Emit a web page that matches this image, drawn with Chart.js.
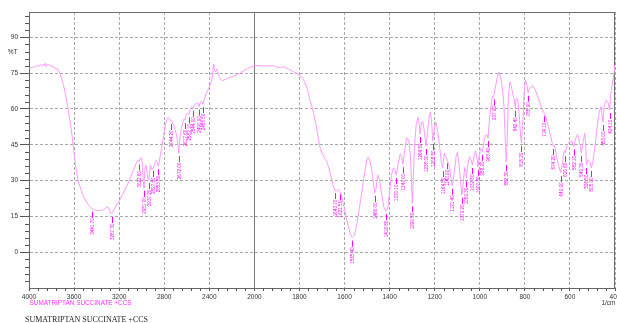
<!DOCTYPE html>
<html><head><meta charset="utf-8">
<script src="https://cdn.jsdelivr.net/npm/chart.js@4.4.1/dist/chart.umd.min.js"></script>
<style>html,body{margin:0;padding:0;background:#fff;overflow:hidden}canvas{display:block}</style>
</head><body>
<canvas id="c" width="617" height="323"></canvas>
<script>
const wavenumbers = [4000,3985,3970,3955,3940,3925,3912,3900,3888,3876,3866,3855,3846,3838,3828,3818,3806,3795,3785,3775,3765,3756,3748,3740,3725,3710,3695,3680,3665,3650,3635,3620,3605,3590,3575,3560,3540,3520,3500,3480,3460,3441.7,3420,3400,3380,3360,3340,3320,3305,3295,3285,3275,3267.3,3258,3245,3225,3200,3175,3150,3125,3100,3075,3050,3035,3022.6,3012,3000,2992,2986,2981,2976,2968,2958,2948,2937.2,2930,2922,2912,2897.6,2885,2870,2862,2853.8,2845,2835,2820,2805,2790,2777,2765,2755,2744.2,2732,2718,2703,2690,2680,2675,2672,2668,2660,2648,2635,2625,2617.6,2605,2592,2582.1,2570,2557,2544,2530,2515,2500,2490.9,2480,2468,2455.5,2445,2430,2412,2395,2380,2370,2364,2360,2355,2348,2340,2334,2326,2312,2298,2285,2265,2240,2210,2180,2150,2120,2090,2060,2030,2000,1980,1960,1940,1920,1905,1895,1885,1870,1855,1840,1825,1810,1798,1785,1770,1760,1755,1747,1738,1725,1715,1708,1700,1690,1680,1670,1660,1652,1643.7,1636,1628,1621.5,1612,1600,1590,1580,1572,1565.4,1558,1550,1540,1530,1518,1508,1500,1495,1488,1480,1472,1466,1461,1456,1451,1445,1435,1425,1416.8,1408,1400,1392,1384,1378,1370,1362,1353,1347,1341,1334,1325,1316,1308,1303,1299.5,1296,1290,1282,1274,1268,1264.5,1259,1252,1244,1238,1232,1224,1219,1214,1208.5,1202,1195,1187,1178,1170,1164.8,1157,1150,1143.9,1136,1128,1121.4,1113,1105,1099,1092,1085,1079.2,1073,1067,1062,1059.3,1053,1046,1039,1032.8,1025,1019,1013,1007.8,1002,997,992,988.2,982,975,968,963.4,957,950,944,937.9,930,922,914,906,898,892,887,882.3,878,873,866,858,850,847,842.4,838,831,825,819,815.2,810,803,797,790,785.9,778,765,752,738,725,714.1,705,695,685,678,674.2,668,660,650,640.9,633,628,624,620.6,612,600,590,582.1,575,566,557,549.3,541,534,530,526.5,520,512,505,498,490,480,472,463,453,448,440,432,424.1,418,410,405,400];
const transmittance = [77.0,77.4,77.2,77.8,77.6,78.4,77.8,78.5,78.0,78.8,78.2,79.1,77.6,78.7,78.3,78.5,77.9,78.0,77.4,77.6,76.8,76.3,77.0,76.2,74.8,72.8,70.3,67.0,63.0,59.0,54.5,49.5,43.5,37.5,32.8,29.3,26.3,23.8,21.8,20.3,19.1,18.2,17.7,17.5,17.4,17.5,17.8,18.4,19.0,18.7,17.6,16.4,16.0,16.7,18.0,19.6,21.6,23.7,26.0,28.5,31.3,34.2,36.9,38.3,38.0,39.5,39.3,35.5,29.5,27.0,30.5,36.5,35.8,31.5,30.2,33.5,36.5,34.8,35.3,37.2,38.4,37.6,36.0,37.5,40.5,44.5,49.0,53.2,55.8,56.5,56.0,55.0,54.8,53.3,51.3,48.8,45.5,42.5,41.5,43.8,48.0,51.8,54.5,55.8,55.3,57.3,58.3,57.7,59.6,60.8,60.5,61.6,62.5,62.2,61.0,62.6,63.3,62.0,63.8,66.3,68.0,69.6,71.5,74.5,77.8,78.8,77.0,75.6,76.3,76.7,75.6,73.6,72.3,71.9,72.2,72.7,73.3,73.8,74.3,75.2,76.1,76.9,77.6,78.1,78.2,78.0,78.0,78.1,77.8,77.3,77.4,77.7,77.0,76.3,75.5,74.8,74.2,72.8,69.6,66.8,64.0,62.0,58.5,52.6,47.0,43.5,41.5,39.8,38.2,35.5,31.5,28.5,26.0,25.7,26.3,25.5,23.0,18.0,13.5,9.6,7.0,6.1,6.8,9.5,14.8,21.0,28.6,35.0,38.9,39.8,38.6,35.0,29.0,24.8,25.8,30.5,32.3,30.2,24.0,18.8,17.2,18.6,25.5,32.0,35.3,35.0,32.3,37.0,41.2,40.0,36.8,42.0,47.8,47.2,41.0,30.0,20.5,28.5,44.0,53.5,56.6,53.5,49.5,54.5,54.6,49.0,44.5,50.5,57.0,58.8,55.0,46.6,51.5,54.5,51.0,44.0,37.5,35.2,41.5,40.0,38.5,36.0,31.0,27.8,33.5,40.0,42.0,37.0,29.0,24.0,29.5,35.5,33.5,31.0,36.5,40.0,39.0,36.5,40.0,42.5,40.0,35.7,40.5,43.5,43.0,42.0,46.0,49.0,49.2,47.8,55.5,61.5,65.5,65.2,69.5,73.5,75.3,72.5,67.5,60.0,47.0,37.8,48.0,66.0,71.4,68.5,64.8,63.8,60.5,64.5,64.0,57.5,49.0,45.7,53.0,67.0,72.2,69.8,66.8,68.6,69.8,67.5,64.0,60.0,58.2,55.8,52.3,48.3,45.5,44.5,44.8,40.5,36.3,33.2,37.5,41.5,42.5,41.5,45.0,46.5,46.3,44.3,47.5,49.3,46.0,41.5,46.5,49.8,44.5,36.5,38.8,38.0,35.3,38.0,43.5,52.0,57.5,61.0,54.5,61.5,63.6,63.0,59.5,67.0,71.5,74.5,78.4];
const peakWavenumbers = [3441.7,3267.3,3022.6,2981.0,2937.2,2897.6,2853.8,2744.2,2672.0,2617.6,2582.1,2544.0,2490.9,2455.5,1643.7,1621.5,1565.4,1466.0,1416.8,1370.1,1341.0,1299.5,1264.5,1238.0,1208.5,1164.8,1143.9,1121.4,1079.2,1059.3,1032.8,1007.8,988.2,963.4,937.9,882.3,842.4,815.2,785.9,714.1,674.2,640.9,620.6,582.1,549.3,526.5,505.0,453.0,424.1];
const peakTransmittance = [18.2,16.0,38.0,27.0,30.2,35.3,36.0,55.0,41.5,55.3,57.7,60.5,61.0,62.0,26.0,25.5,6.1,24.8,17.2,32.3,36.8,20.5,49.5,44.5,46.6,35.2,38.5,27.8,24.0,31.0,36.5,35.7,42.0,47.8,65.2,37.8,60.5,45.7,66.8,58.2,44.5,33.2,41.5,44.3,41.5,36.5,35.3,54.5,59.5];
const peakLabels = peakWavenumbers.map(v => v.toFixed(2));
const xTicks = [4000,3600,3200,2800,2400,2000,1800,1600,1400,1200,1000,800,600,400];
const yTicks = [0,15,30,45,60,75,90];
const sampleName = 'SUMATRIPTAN SUCCINATE +CCS';
const yTitle = '%T';
const xUnit = '1/cm';

const XMAX = 4000, XBREAK = 2000, XMIN = 400;
class IRScale extends Chart.LinearScale {
  _u(v) { return v >= XBREAK ? (XMAX - v) / 2 : (XMAX - XBREAK) / 2 + (XBREAK - v); }
  getPixelForValue(v) { return this.left + this._u(v) / this._u(XMIN) * this.width; }
  getValueForPixel(p) {
    const u = (p - this.left) / this.width * this._u(XMIN);
    const half = (XMAX - XBREAK) / 2;
    return u <= half ? XMAX - 2 * u : XBREAK - (u - half);
  }
}
IRScale.id = 'irbreak';
IRScale.defaults = Chart.LinearScale.defaults;
Chart.register(IRScale);

const irPlugin = {
  id: 'irdeco',
  beforeDatasetsDraw(chart) {
    const {ctx, chartArea: a, scales: {x}} = chart;
    ctx.save();
    ctx.strokeStyle = '#7a7a7a'; ctx.lineWidth = 1;
    const px = Math.round(x.getPixelForValue(2000)) + 0.5;
    ctx.beginPath(); ctx.moveTo(px, a.top); ctx.lineTo(px, a.bottom); ctx.stroke();
    ctx.strokeStyle = '#707070';
    ctx.beginPath();
    ctx.moveTo(a.left, Math.round(a.top) + 0.5); ctx.lineTo(a.right, Math.round(a.top) + 0.5);
    ctx.moveTo(Math.round(a.right) - 0.5, a.top); ctx.lineTo(Math.round(a.right) - 0.5, a.bottom);
    ctx.stroke();
    ctx.restore();
  },
  afterDatasetsDraw(chart) {
    const {ctx, chartArea: a, scales: {x, y}} = chart;
    ctx.save();
    // minor ticks
    ctx.strokeStyle = '#555'; ctx.lineWidth = 1;
    ctx.beginPath();
    for (let v = -12; v < 100.6; v += 3) {
      if (v % 15 === 0) continue;
      const py = Math.round(y.getPixelForValue(v)) + 0.5;
      ctx.moveTo(a.left - 4, py); ctx.lineTo(a.left, py);
    }
    for (let v = 3920; v > 2000; v -= 80) {
      if (v % 400 === 0) continue;
      const px = Math.round(x.getPixelForValue(v)) + 0.5;
      ctx.moveTo(px, a.bottom); ctx.lineTo(px, a.bottom + 3);
    }
    for (let v = 1960; v > 400; v -= 40) {
      if (v % 200 === 0) continue;
      const px = Math.round(x.getPixelForValue(v)) + 0.5;
      ctx.moveTo(px, a.bottom); ctx.lineTo(px, a.bottom + 3);
    }
    ctx.stroke();
    // peak labels
    ctx.strokeStyle = '#ff00ff'; ctx.fillStyle = '#ff00ff';
    ctx.font = '4.6px "Liberation Sans", Arial, sans-serif';
    for (let i = 0; i < peakWavenumbers.length; i++) {
      const px = Math.round(x.getPixelForValue(peakWavenumbers[i])) + 0.5;
      const py = y.getPixelForValue(peakTransmittance[i]) + 3;
      ctx.beginPath(); ctx.moveTo(px, py); ctx.lineTo(px, py + 6); ctx.stroke();
      ctx.save();
      ctx.translate(px, py + 6.5);
      ctx.rotate(-Math.PI / 2);
      ctx.textAlign = 'right'; ctx.textBaseline = 'middle';
      ctx.fillText(peakLabels[i], 0, 0);
      ctx.restore();
    }
    // texts
    ctx.fillStyle = '#333';
    ctx.font = '6.5px "Liberation Sans", Arial, sans-serif';
    ctx.textBaseline = 'middle';
    ctx.textAlign = 'center';
    ctx.fillText(yTitle, 12.5, 52.5);
    ctx.textAlign = 'right';
    ctx.fillText(xUnit, 615.5, 303.5);
    ctx.textAlign = 'left';
    ctx.fillStyle = '#ff33ff';
    ctx.font = '6.4px "Liberation Sans", Arial, sans-serif';
    ctx.fillText(sampleName, 29.5, 303.5);
    ctx.fillStyle = '#222';
    ctx.font = '8px "Liberation Serif", "Times New Roman", serif';
    ctx.fillText(sampleName, 25, 319.5);
    ctx.restore();
  }
};

new Chart(document.getElementById('c'), {
  type: 'line',
  data: {
    datasets: [{
      data: wavenumbers.map((w, i) => ({x: w, y: transmittance[i]})),
      borderColor: '#ff99ff', borderWidth: 1, pointRadius: 0, tension: 0, fill: false
    }]
  },
  options: {
    responsive: false, animation: false, devicePixelRatio: 1,
    layout: {padding: {top: 12, right: 2, left: 0, bottom: 0}},
    plugins: {legend: {display: false}, tooltip: {enabled: false}},
    scales: {
      x: {
        type: 'irbreak', position: 'bottom', min: XMIN, max: XMAX,
        afterBuildTicks: s => { s.ticks = xTicks.map(v => ({value: v})); },
        afterFit: s => { s.height = 35; s.paddingLeft = 0; s.paddingRight = 0; },
        ticks: {autoSkip: false, maxRotation: 0, minRotation: 0, padding: 2, color: '#333',
          font: {family: '"Liberation Sans", Arial, sans-serif', size: 6.5}, callback: v => String(v)},
        grid: {color: '#a8a8a8', tickColor: '#555', tickLength: 3, lineWidth: 1},
        border: {display: true, color: '#666', width: 1, dash: [3, 2]}
      },
      y: {
        min: -15, max: 100.6,
        afterBuildTicks: s => { s.ticks = yTicks.map(v => ({value: v})); },
        afterFit: s => { s.width = 29; },
        ticks: {padding: 2, color: '#333', font: {family: '"Liberation Sans", Arial, sans-serif', size: 6.5}, callback: v => String(v)},
        grid: {color: '#a8a8a8', tickColor: '#555', tickLength: 9, lineWidth: 1},
        border: {display: true, color: '#666', width: 1, dash: [3, 2]}
      }
    }
  },
  plugins: [irPlugin]
});
</script>
</body></html>
